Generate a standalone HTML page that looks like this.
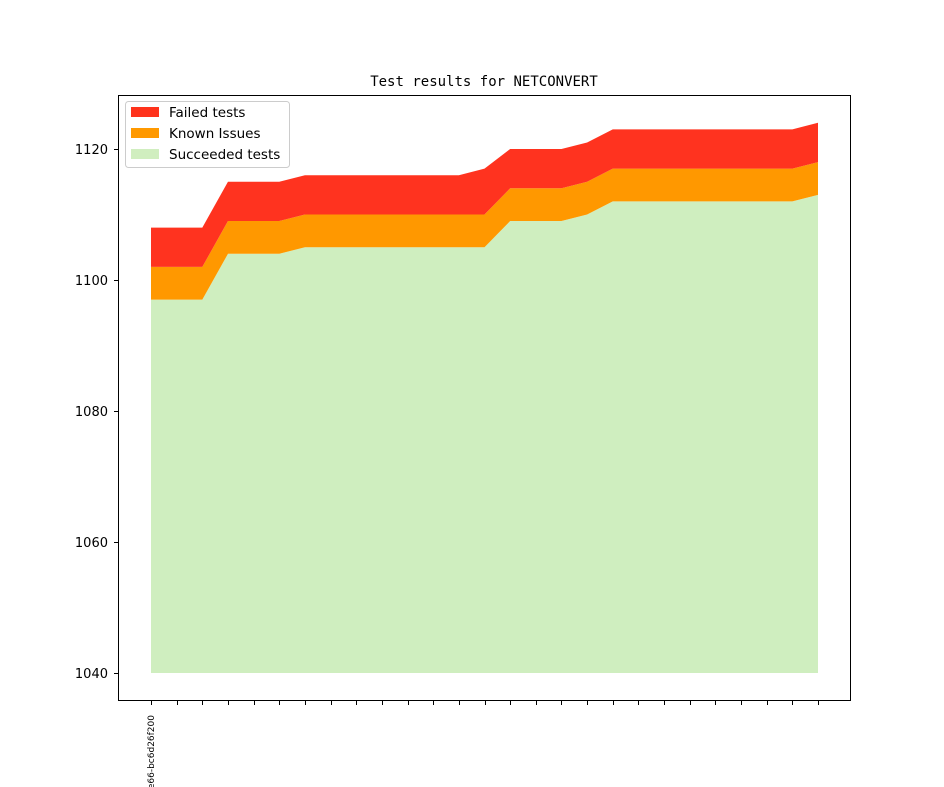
<!DOCTYPE html>
<html><head><meta charset="utf-8"><style>
html,body{margin:0;padding:0;background:#fff;}
svg{display:block;font-family:"DejaVu Sans","Liberation Sans",sans-serif;}
</style></head><body>
<svg id="s" width="944" height="787" viewBox="0 0 944 787" xmlns="http://www.w3.org/2000/svg">
<rect width="944" height="787" fill="#fff"/>
<g id="areas"></g>
<rect x="118.5" y="95.5" width="732" height="605" fill="none" stroke="#000" stroke-width="1"/>
<g id="ticks" stroke="#000" stroke-width="1"></g>
<g font-size="13" fill="#000" text-anchor="end">
<text x="108" y="154">1120</text>
<text x="108" y="285">1100</text>
<text x="108" y="416">1080</text>
<text x="108" y="547">1060</text>
<text x="108" y="678">1040</text>
</g>
<text x="484" y="86" font-size="14" text-anchor="middle" font-family="DejaVu Sans Mono, Liberation Mono, monospace">Test results for NETCONVERT</text>
<text transform="translate(154,715) rotate(-90)" font-size="9" text-anchor="end">b0c3f3e66-bc6d26f200</text>
<g>
<rect x="125.5" y="101.5" width="164" height="66" rx="3" fill="#fff" stroke="#ccc"/>
<rect x="131" y="107" width="28" height="10" fill="#ff331c"/>
<rect x="131" y="128" width="28" height="10" fill="#ff9900"/>
<rect x="131" y="149" width="28" height="10" fill="#d0eebf"/>
<g font-size="13.5"><text x="169" y="117">Failed tests</text><text x="169" y="138">Known Issues</text><text x="169" y="159">Succeeded tests</text></g>
</g>
</svg>
<script>
var succ=[],fail=[];
for(var i=0;i<27;i++){var s;if(i<=2)s=1097;else if(i<=5)s=1104;else if(i<=13)s=1105;else if(i<=16)s=1109;else if(i==17)s=1110;else if(i<=25)s=1112;else s=1113;succ.push(s);
var f;if(i<=2)f=1108;else if(i<=5)f=1115;else if(i<=12)f=1116;else if(i==13)f=1117;else if(i<=16)f=1120;else if(i==17)f=1121;else if(i<=25)f=1123;else f=1124;fail.push(f);}
function X(i){return 151+i*(818-151)/26;}function Y(v){return 673-(v-1040)*6.55;}
function poly(top,bot,c){var p=[];for(var i=0;i<27;i++)p.push(X(i)+","+Y(top[i]));for(var i=26;i>=0;i--)p.push(X(i)+","+Y(bot[i]));return '<polygon points="'+p.join(" ")+'" fill="'+c+'"/>';}
var base=succ.map(function(){return 1040;}),known=succ.map(function(v){return v+5;});
document.getElementById("areas").innerHTML=poly(succ,base,"#cfeebf")+poly(known,succ,"#ff9800")+poly(fail,known,"#ff331f");
var t="";for(var i=0;i<27;i++){var x=Math.round(X(i))+0.5;t+='<line x1="'+x+'" y1="701" x2="'+x+'" y2="705"/>';}
[149,280,411,542,673].forEach(function(y){t+='<line x1="114" y1="'+(y+0.5)+'" x2="118" y2="'+(y+0.5)+'"/>';});
document.getElementById("ticks").innerHTML=t;
</script>
</body></html>
